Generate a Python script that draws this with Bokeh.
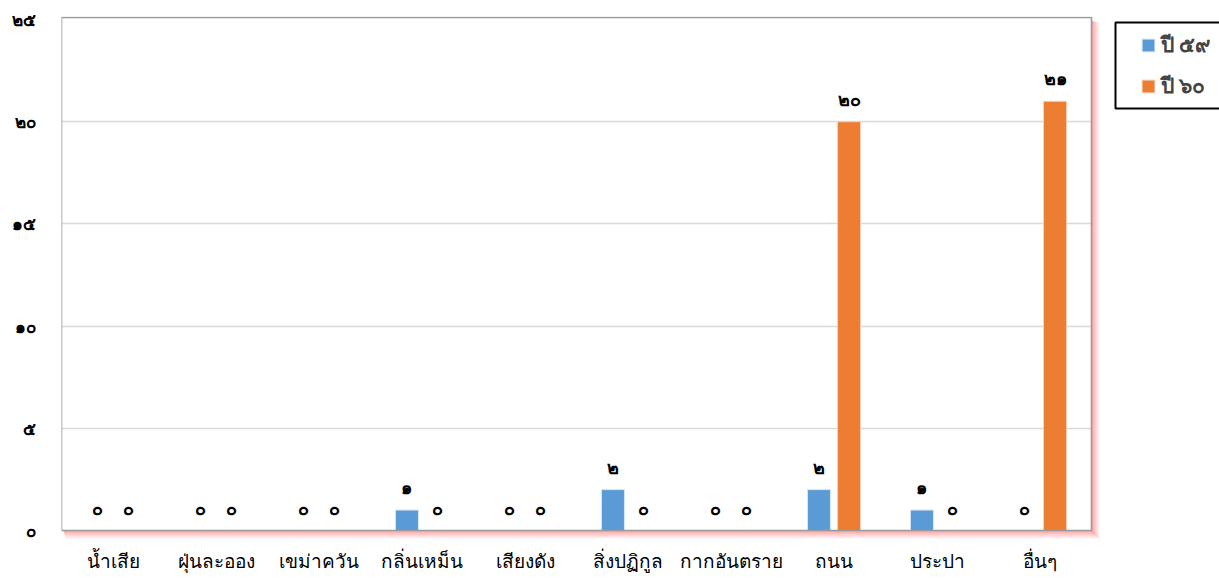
from bokeh.plotting import figure
from bokeh.models import ColumnDataSource, Range1d, FixedTicker, Legend, LegendItem
from bokeh.core.properties import value
from bokeh.embed import file_html
from bokeh.resources import INLINE

categories = ["น้ำเสีย", "ฝุ่นละออง", "เขม่าควัน", "กลิ่นเหม็น", "เสียงดัง", "สิ่งปฏิกูล", "กากอันตราย", "ถนน", "ประปา", "อื่นๆ"]
series_names = ["ปี ๕๙", "ปี ๖๐"]
values_59 = [0, 0, 0, 1, 0, 2, 0, 2, 1, 0]
values_60 = [0, 0, 0, 0, 0, 0, 0, 20, 0, 21]
y_ticks = [0, 5, 10, 15, 20, 25]
y_tick_labels = ["๐", "๕", "๑๐", "๑๕", "๒๐", "๒๕"]

THAI_DIGITS = "๐๑๒๓๔๕๖๗๘๙"
def thai_num(v):
    return "".join(THAI_DIGITS[int(c)] for c in str(v))

FONT = "Noto Sans"
BLUE = "#5B9BD5"
ORANGE = "#ED7D31"

W, H = 1219, 578
FR_L, FR_T, FR_B = 61, 16, 541          # frame edges (px)
BOX_B = 530                              # visible plot-area bottom (value 0)
Y_TOP = 25.1                             # visible plot-area top value
PX_PER_CAT = 103.0
n = len(categories)
px_y = (BOX_B - (FR_T + 1)) / Y_TOP      # px per y unit
dx = 1.0 / PX_PER_CAT
dy = 1.0 / px_y
x_end = (W - FR_L) / PX_PER_CAT
y_start = -(FR_B - BOX_B) * dy
y_end = Y_TOP + 1 * dy
OFF = 0.146
BW = 0.223

def sx(px):  # screen x -> data x
    return (px - FR_L) * dx
def sy(py):  # screen y -> data y
    return (BOX_B - py) * dy

xc = [i + 0.5 for i in range(n)]
src = ColumnDataSource(dict(
    x59=[x - OFF for x in xc], x60=[x + OFF for x in xc],
    v59=values_59, v60=values_60,
    l59=[thai_num(v) for v in values_59],
    l60=[thai_num(v) for v in values_60],
))

p = figure(x_range=Range1d(0, x_end), y_range=Range1d(y_start, y_end),
           width=W, height=H, output_backend="svg", toolbar_location=None,
           min_border_left=FR_L, min_border_right=0, min_border_top=FR_T, min_border_bottom=H - FR_B)
p.outline_line_color = None

# white cover outside the visible plot area (hides grid extension)
p.quad(left=[n, 0], right=[x_end, n], bottom=[y_start, y_start], top=[y_end, 0],
       fill_color="white", line_color=None)

# soft red shadow along right and bottom edges
for d in range(1, 10):
    a = 0.85 * (1 - d / 10.0) ** 1.4
    p.quad(left=[n + (d - 1) * dx, 2 * dx + (d - 1) * dx * 0.3],
           right=[n + d * dx, n + d * dx],
           bottom=[-d * dy, -d * dy],
           top=[Y_TOP - 3 * dy - d * dy * 0.3, -(d - 1) * dy],
           fill_color="#ff6a6a", fill_alpha=a, line_color=None)

r59 = p.vbar(x="x59", top="v59", width=BW, source=src,
             fill_color=BLUE, line_color="#d6e6f5", line_width=1)
r60 = p.vbar(x="x60", top="v60", width=BW, source=src,
             fill_color=ORANGE, line_color="#f8cfb5", line_width=1)

# visible plot-area border
p.quad(left=[0], right=[n], bottom=[0], top=[Y_TOP], fill_color=None,
       line_color="#9a9a9a", line_width=1.6)

# legend box border (right side runs off the page as in the original)
p.quad(left=[sx(1115)], right=[x_end + 1], bottom=[sy(108)], top=[sy(22)],
       fill_color="white", line_color="black", line_width=2)

for key in ("59", "60"):
    p.text(x="x" + key, y="v" + key, text="l" + key, source=src,
           text_align="center", text_baseline="middle", y_offset=-23,
           text_font=value(FONT), text_font_size="18px", text_font_style="bold", text_color="black")

p.xgrid.grid_line_color = None
p.ygrid.grid_line_color = "#d9d9d9"
p.ygrid.grid_line_width = 1.5
p.ygrid.ticker = FixedTicker(ticks=y_ticks[1:-1])

p.yaxis.ticker = FixedTicker(ticks=y_ticks)
p.yaxis.major_label_overrides = {t: l for t, l in zip(y_ticks, y_tick_labels)}
p.yaxis.axis_line_color = None
p.yaxis.major_tick_line_color = None
p.yaxis.minor_tick_line_color = None
p.yaxis.major_label_standoff = 20
p.yaxis.major_label_text_font = FONT
p.yaxis.major_label_text_font_size = "17px"
p.yaxis.major_label_text_font_style = "bold"
p.yaxis.major_label_text_color = "black"

p.xaxis.ticker = FixedTicker(ticks=xc)
p.xaxis.major_label_overrides = {x: c for x, c in zip(xc, categories)}
p.xaxis.axis_line_color = None
p.xaxis.major_tick_line_color = None
p.xaxis.minor_tick_line_color = None
p.xaxis.major_label_standoff = 0
p.xaxis.major_label_text_font = FONT
p.xaxis.major_label_text_font_size = "19px"
p.xaxis.major_label_text_color = "black"

legend = Legend(items=[LegendItem(label=series_names[0], renderers=[r59]),
                       LegendItem(label=series_names[1], renderers=[r60])],
                location=(1140 - FR_L, 439), orientation="vertical",
                border_line_color=None, background_fill_alpha=0,
                label_text_font=FONT, label_text_font_size="21px", label_text_font_style="bold",
                glyph_width=16, glyph_height=16, label_height=20, spacing=8, padding=0, margin=0,
                label_standoff=5)
p.add_layout(legend)

open("out.html", "w").write(file_html(p, INLINE))
